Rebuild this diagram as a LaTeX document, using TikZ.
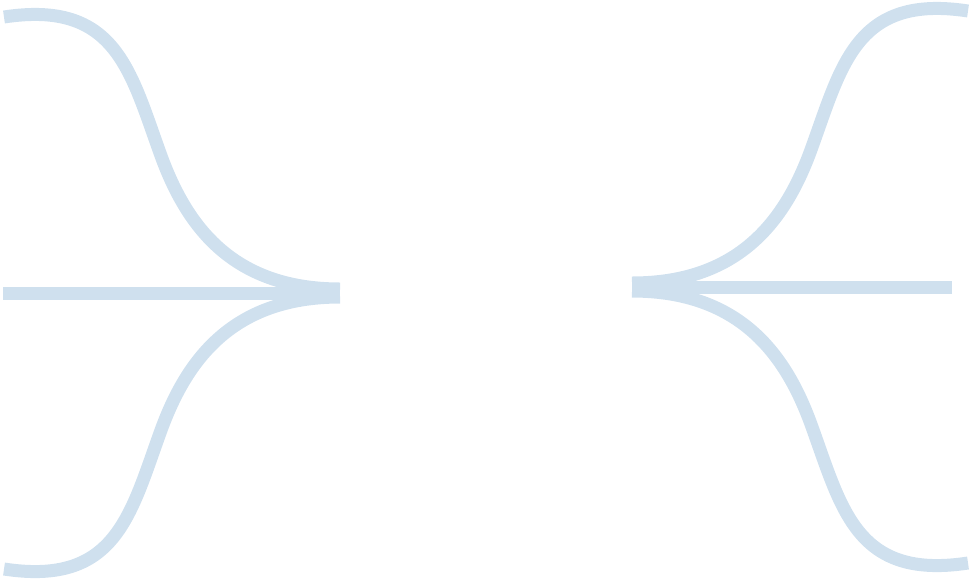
\documentclass[tikz,border=0pt]{standalone}
\usepackage{tikz}
\definecolor{braceblue}{RGB}{207,224,238}
\tikzstyle{strand}=[draw=braceblue, line width=13pt]

\begin{document}
\begin{tikzpicture}[x=1pt, y=-1pt]
		\useasboundingbox (0,0) rectangle (973,582);
		
		\coordinate (ltop) at (4,17);
		\coordinate (lmid) at (3,293);
		\coordinate (lbot) at (4,569);
		\coordinate (ltipa) at (340,289);
		\coordinate (ltipb) at (336,293);
		\coordinate (ltipc) at (340,297);
		
		\coordinate (rtop) at (968,11);
		\coordinate (rmid) at (952,287);
		\coordinate (rbot) at (968,563);
		\coordinate (rtipa) at (632,283);
		\coordinate (rtipb) at (636,287);
		\coordinate (rtipc) at (632,291);
		
		\draw[strand] (lmid) -- (ltipb);
		\draw[strand] (ltop) .. controls (115,0) and (130,70) .. (160,153) .. controls (185,223) and (230,289) .. (ltipa);
		\draw[strand] (lbot) .. controls (115,586) and (130,516) .. (160,433) .. controls (185,363) and (230,297) .. (ltipc);
		
		\draw[strand] (rmid) -- (rtipb);
		\draw[strand] (rtop) .. controls (857,-6) and (842,64) .. (812,147) .. controls (787,217) and (742,283) .. (rtipa);
		\draw[strand] (rbot) .. controls (857,580) and (842,510) .. (812,427) .. controls (787,357) and (742,291) .. (rtipc);
		
\end{tikzpicture}
\end{document}
